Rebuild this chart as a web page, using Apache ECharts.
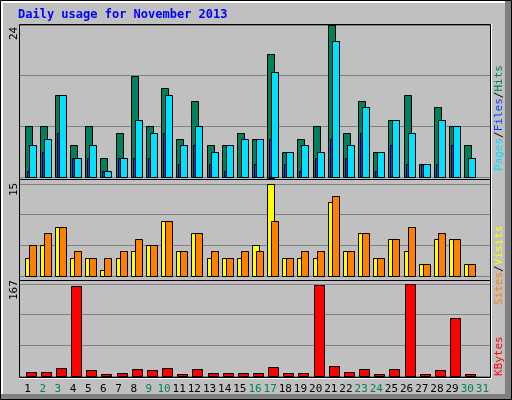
<!DOCTYPE html>
<html><head><meta charset="utf-8">
<script src="https://cdn.jsdelivr.net/npm/echarts@6/dist/echarts.min.js"></script>
<style>html,body{margin:0;padding:0;background:#c0c0c0}#c{width:512px;height:400px}</style>
</head><body><div id="c"></div>
<script>
var days = ['1','2','3','4','5','6','7','8','9','10','11','12','13','14','15','16','17','18','19','20','21','22','23','24','25','26','27','28','29','30','31'];
var weekend = ['2','3','9','10','16','17','23','24','30','31'];
var hits   = [8,8,13,5,8,3,7,16,8,14,6,12,5,5,7,6,19.5,4,6,8,24,7,12,4,9,13,2,11,8,5,0];
var files  = [5,6,13,3,5,1,3,9,7,13,5,8,4,5,6,6,16.6,4,5,4,21.4,5,11,4,9,7,2,9,8,3,0];
var pages  = [1,4,7,3,3,1,3,3,3,7,2,5,2,1,0,2,6,2,1,3,6,3,7,1,5,2,2,2,5,0,0];
var visits = [3,5,8,3,3,1,3,4,5,9,4,7,3,3,3,5,15,3,3,3,12,4,7,3,6,4,2,6,6,2,0];
var sites  = [5,7,8,4,3,3,4,6,5,9,4,7,4,3,4,4,9,3,4,4,13,4,7,3,6,8,2,7,6,2,0];
var kbytes = [8,8,15,163,10,4,6,12,10,15,4,12,6,6,6,6,17,6,6,165,19,8,13,4,12,167,4,10,105,4,0];

var myChart = echarts.init(document.getElementById('c'));
var mono = 'DejaVu Sans Mono';

function barSeries(idx, data, color, off, w, z) {
  return {
    type: 'custom', xAxisIndex: idx, yAxisIndex: idx, z: z,
    data: data.map(function (v, i) { return [i, v]; }),
    renderItem: function (params, api) {
      var v = api.value(1);
      if (!v) return;
      var p = api.coord([api.value(0), v]);
      var b = api.coord([api.value(0), 0]);
      return { type: 'rect', shape: { x: Math.round(p[0] + off) + 0.5, y: Math.round(p[1]) + 0.5, width: w, height: Math.round(b[1] - p[1]) },
               style: { fill: color, stroke: '#000', lineWidth: 1 } };
    }
  };
}

function xAx(idx, show) {
  return { type: 'category', gridIndex: idx, data: days, boundaryGap: true,
    axisLine: { show: false }, axisTick: { show: false }, splitLine: { show: false },
    axisLabel: { show: show, interval: 0, hideOverlap: false, fontFamily: mono, fontSize: 11, margin: 8,
      color: function (v) { return weekend.indexOf(v) >= 0 ? '#00805c' : '#000'; } } };
}
function yAx(idx, max, interval) {
  return { type: 'value', gridIndex: idx, min: 0, max: max, interval: interval,
    axisLabel: { show: false }, axisLine: { show: false }, axisTick: { show: false },
    splitLine: { lineStyle: { color: '#808080', width: 1 } } };
}
function vText(x, y, rich, text) {
  return { type: 'text', x: x, y: y, rotation: Math.PI / 2, z: 20,
    style: { text: text, fill: '#000', font: '11px ' + mono, align: 'left', verticalAlign: 'middle', rich: rich } };
}
var f = '11px ' + mono;

option = {
  backgroundColor: '#c0c0c0',
  animation: false,
  grid: [
    { left: 20, right: 22, top: 25, height: 152 },
    { left: 20, right: 22, top: 184, height: 92 },
    { left: 20, right: 22, top: 284, height: 92 }
  ],
  xAxis: [xAx(0, false), xAx(1, false), xAx(2, true)],
  yAxis: [yAx(0, 24, 8), yAx(1, 15, 5), yAx(2, 167, 167 / 3)],
  series: [
    barSeries(0, hits, '#00805c', -3, 7, 2),
    barSeries(0, files, '#00e0ff', 1, 7, 3),
    barSeries(0, pages, '#0040ff', -1, 2, 4),
    barSeries(1, visits, '#ffff00', -3, 7, 2),
    barSeries(1, sites, '#ff8000', 1, 7, 3),
    barSeries(2, kbytes, '#ff0000', -2, 10, 2)
  ],
  graphic: [
    { type: 'rect', shape: { x: 0.5, y: 0.5, width: 511, height: 399 }, style: { fill: 'none', stroke: '#000' }, z: 0 },
    { type: 'rect', shape: { x: 505, y: 1, width: 6, height: 398 }, style: { fill: '#808080' }, z: 0 },
    { type: 'rect', shape: { x: 1, y: 394, width: 510, height: 5 }, style: { fill: '#808080' }, z: 0 },
    { type: 'rect', shape: { x: 1, y: 1, width: 2, height: 393 }, style: { fill: '#fff' }, z: 0 },
    { type: 'rect', shape: { x: 1, y: 1, width: 504, height: 2 }, style: { fill: '#fff' }, z: 0 },
    { type: 'rect', shape: { x: 19.5, y: 24.5, width: 471, height: 353 }, style: { fill: 'none', stroke: '#000' }, z: 10 },
    { type: 'line', shape: { x1: 20, y1: 179.5, x2: 490, y2: 179.5 }, style: { stroke: '#000' }, z: 10 },
    { type: 'line', shape: { x1: 20, y1: 280.5, x2: 490, y2: 280.5 }, style: { stroke: '#000' }, z: 10 },
    { type: 'line', shape: { x1: 491.5, y1: 24, x2: 491.5, y2: 378 }, style: { stroke: '#fff' }, z: 10 },
    { type: 'line', shape: { x1: 19, y1: 378.5, x2: 492, y2: 378.5 }, style: { stroke: '#fff' }, z: 10 },
    { type: 'text', left: 18, top: 9, style: { text: 'Daily usage for November 2013', fill: '#0000ff', font: 'bold 12px ' + mono } },
    vText(14, 40, { n: { fill: '#000', font: f } }, '{n|24}'),
    vText(14, 196, { n: { fill: '#000', font: f } }, '{n|15}'),
    vText(14, 300, { n: { fill: '#000', font: f } }, '{n|167}'),
    vText(499, 171, { p: { fill: '#00e0ff', font: f }, q: { fill: '#0040ff', font: f }, h: { fill: '#00805c', font: f }, s: { fill: '#000', font: f } },
      '{p|Pages}{s|/}{q|Files}{s|/}{h|Hits}'),
    vText(499, 305, { a: { fill: '#ff8000', font: f }, b: { fill: '#ffff00', font: f }, s: { fill: '#000', font: f } },
      '{a|Sites}{s|/}{b|Visits}'),
    vText(499, 376, { k: { fill: '#ff0000', font: f } }, '{k|KBytes}')
  ]
};
myChart.setOption(option);
</script></body></html>
